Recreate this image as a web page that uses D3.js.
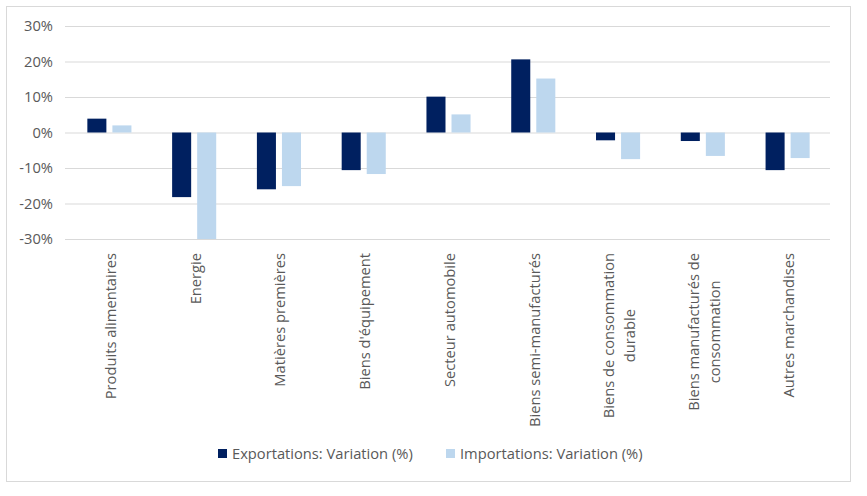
<!DOCTYPE html>
<html><head><meta charset="utf-8">
<script src="https://cdn.jsdelivr.net/npm/d3@7"></script>
<style>body{margin:0;background:#fff}svg{display:block}text{font-family:"Open Sans",sans-serif;fill:#595959}</style>
</head><body><svg id="c" width="867" height="496"></svg>
<script>
const categories = [["Produits alimentaires"],["Energie"],["Matières premières"],["Biens d'équipement"],["Secteur automobile"],["Biens semi-manufacturés"],["Biens de consommation","durable"],["Biens manufacturés de","consommation"],["Autres marchandises"]];
const exportValues = [3.9, -18.2, -16.0, -10.6, 10.1, 20.6, -2.2, -2.4, -10.6];
const importValues = [2.0, -30.0, -15.1, -11.7, 5.1, 15.2, -7.5, -6.6, -7.2];
const seriesNames = ["Exportations: Variation (%)", "Importations: Variation (%)"];
const seriesColors = ["#002060", "#BDD7EE"];
const yTicks = [-30, -20, -10, 0, 10, 20, 30];

const FS = "14.7px";
const svg = d3.select("#c");
svg.append("rect").attr("x",6.5).attr("y",6.5).attr("width",844).attr("height",475)
  .attr("fill","#fff").attr("stroke","#D9D9D9");

const L = 67, R = 830;
const x0 = d3.scaleBand().domain(d3.range(categories.length)).range([L,R]).paddingInner(0.48).paddingOuter(0.24);
const x1 = d3.scaleBand().domain([0,1]).range([0,x0.bandwidth()]).paddingInner(0.24);
const y = d3.scaleLinear().domain([-30,30]).range([239,26]);

const grid = svg.append("g").attr("transform",`translate(${L-2},0)`)
  .call(d3.axisLeft(y).tickValues(yTicks).tickSize(-(R-L+2)).tickFormat(d=>d+"%"));
grid.select(".domain").remove();
grid.selectAll("line").attr("stroke","#D9D9D9");
grid.selectAll("text").attr("x",-12).style("font-size",FS).attr("fill","#595959");

const data = categories.map((c,i)=>[exportValues[i], importValues[i]]);
const g = svg.append("g");
data.forEach((vals,i)=>{
  vals.forEach((v,s)=>{
    g.append("rect").attr("x",x0(i)+x1(s)).attr("width",x1.bandwidth())
      .attr("y",y(Math.max(0,v))).attr("height",Math.abs(y(v)-y(0)))
      .attr("fill",seriesColors[s]);
  });
});

// category labels
const lh = 21.5;
categories.forEach((lines,i)=>{
  const cx = x0(i)+x0.bandwidth()/2;
  const t = svg.append("text").style("font-size",FS);
  const n = lines.length;
  lines.forEach((ln,k)=>{
    t.append("tspan").attr("x",0).attr("dy", k===0 ? 0 : lh).text(ln);
  });
  let maxW = 0;
  t.selectAll("tspan").each(function(){maxW=Math.max(maxW,this.getComputedTextLength());});
  t.attr("text-anchor","middle");
  const top = 253;
  const cy = top + maxW/2;
  const offset = -((n-1)*lh)/2 + 6.5;
  t.attr("transform",`translate(${cx + offset},${cy}) rotate(-90)`);
});

// legend
const legend = [[218,232],[446,460]];
seriesNames.forEach((nm,s)=>{
  svg.append("rect").attr("x",legend[s][0]).attr("y",449).attr("width",9).attr("height",9).attr("fill",seriesColors[s]);
  svg.append("text").attr("x",legend[s][1]).attr("y",459).style("font-size",FS).text(nm);
});
</script></body></html>
